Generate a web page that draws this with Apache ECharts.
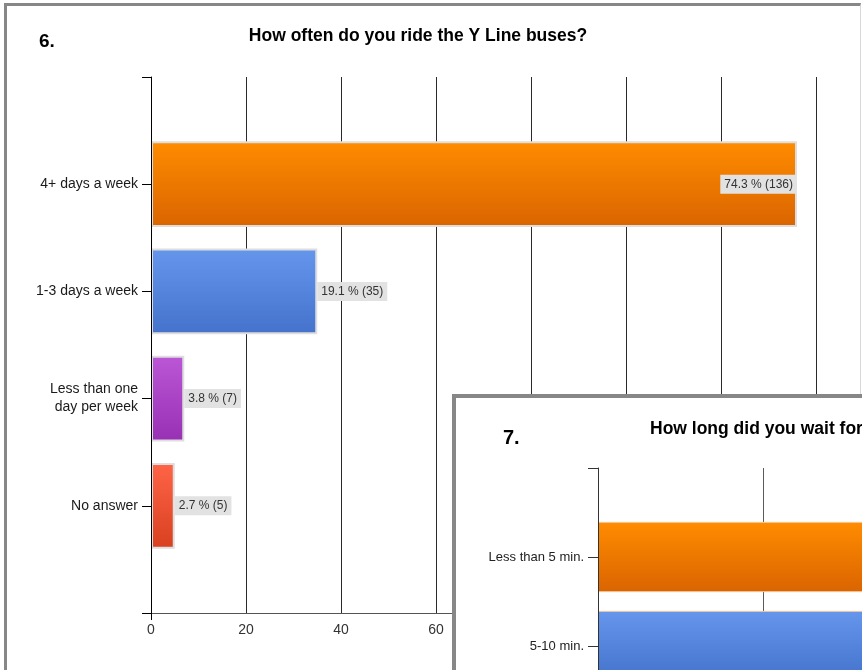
<!DOCTYPE html>
<html>
<head>
<meta charset="utf-8">
<script src="https://cdn.jsdelivr.net/npm/echarts@6/dist/echarts.min.js"></script>
<style>
    html, body { margin: 0; padding: 0; width: 862px; height: 670px; overflow: hidden; background: #fff; }
    #frame6 { position: absolute; left: 4px; top: 3px; width: 853px; height: 800px;
              border-left: 3px solid #878787; border-top: 3px solid #878787; border-right: 1px solid #d8d8d8; }
    #chart6 { position: absolute; left: 0; top: 0; width: 862px; height: 670px; }
    #box7 { position: absolute; left: 452px; top: 394px; width: 600px; height: 400px; background: #fff;
            border-left: 4px solid #878787; border-top: 4px solid #878787; }
    #chart7 { position: absolute; left: 0; top: 0; width: 600px; height: 400px; }
</style>
</head>
<body>
<div id="frame6"></div>
<div id="chart6"></div>
<div id="box7"><div id="chart7"></div></div>
<script>
    // question 6
    var categories6 = ['4+ days a week', '1-3 days a week', 'Less than one\nday per week', 'No answer'];
    var counts6 = [136, 35, 7, 5];
    var percents6 = [74.3, 19.1, 3.8, 2.7];

    // question 7 (only the top of it is visible)
    var categories7 = ['Less than 5 min.', '5-10 min.'];
    var counts7 = [84, 61];

    // top / bottom colours of each bar
    var barColors = [
        ['#ff8c00', '#da6400'],
        ['#6596ec', '#4472cc'],
        ['#bb57d6', '#9830b4'],
        ['#ff6447', '#d8401f']
    ];

    function grad(i) {
        return new echarts.graphic.LinearGradient(0, 0, 0, 1, [
            {offset: 0, color: barColors[i][0]},
            {offset: 1, color: barColors[i][1]}
        ]);
    }

    // empty slot before and after the categories, like the original
    function padded(arr, empty) {
        return [empty].concat(arr, [empty]);
    }

    var chart6 = echarts.init(document.getElementById('chart6'));
    var data6 = counts6.map(function (v, i) {
        return {
            value: v,
            itemStyle: {color: grad(i)},
            label: {position: v > 100 ? 'insideRight' : 'right'}
        };
    });
    chart6.setOption({
        animation: false,
        graphic: [
            {type: 'text', x: 39, y: 42, style: {text: '6.', font: 'bold 19px "Liberation Sans"', fill: '#000', verticalAlign: 'middle'}},
            {type: 'text', x: 418, y: 36, style: {text: 'How often do you ride the Y Line buses?', font: 'bold 17.5px "Liberation Sans"', fill: '#000', align: 'center', verticalAlign: 'middle'}}
        ],
        grid: {left: 151, top: 77, width: 760, height: 536, containLabel: false, outerBoundsMode: 'none'},
        xAxis: [{
            type: 'value', min: 0, max: 160, interval: 20,
            axisLine: {show: true, lineStyle: {color: '#555', width: 1}},
            axisTick: {show: false},
            axisLabel: {color: '#333', fontSize: 14, fontFamily: 'Liberation Sans', margin: 10},
            splitLine: {show: true, lineStyle: {color: '#2a2a2a', width: 1}}
        }, {
            // only the small tick under 0
            type: 'value', min: 0, max: 160, position: 'bottom',
            axisLine: {show: false},
            axisTick: {show: true, customValues: [0], length: 7, lineStyle: {color: '#000'}},
            axisLabel: {show: false},
            splitLine: {show: false}
        }],
        yAxis: {
            type: 'category', inverse: true, boundaryGap: false, z: 5,
            data: padded(categories6, ''),
            axisLine: {lineStyle: {color: '#000', width: 1}},
            axisTick: {show: true, interval: 0, length: 9, lineStyle: {color: '#000'}},
            axisLabel: {interval: 0, color: '#1a1a1a', fontSize: 14, fontFamily: 'Liberation Sans', margin: 13, lineHeight: 18},
            splitLine: {show: false}
        },
        series: [{
            type: 'bar',
            barWidth: '80%',
            data: padded(data6, '-'),
            itemStyle: {borderColor: '#dedede', borderWidth: 2},
            label: {
                show: true,
                distance: 0,
                color: '#333',
                fontSize: 12,
                fontFamily: 'Liberation Sans',
                backgroundColor: '#e2e2e2',
                padding: [4, 4, 3, 4],
                formatter: function (p) {
                    return percents6[p.dataIndex - 1] + ' % (' + p.value + ')';
                }
            }
        }]
    });

    var chart7 = echarts.init(document.getElementById('chart7'));
    var data7 = counts7.map(function (v, i) {
        return {value: v, itemStyle: {color: grad(i)}};
    });
    chart7.setOption({
        animation: false,
        graphic: [
            {type: 'text', x: 47, y: 40, style: {text: '7.', font: 'bold 20px "Liberation Sans"', fill: '#000', verticalAlign: 'middle'}},
            {type: 'text', x: 194, y: 31, style: {text: 'How long did you wait for the bus?', font: 'bold 17.5px "Liberation Sans"', fill: '#000', verticalAlign: 'middle'}}
        ],
        grid: {left: 142, top: 70, width: 1320, height: 267, containLabel: false, outerBoundsMode: 'none'},
        xAxis: {
            type: 'value', min: 0, max: 160, interval: 20,
            axisLine: {show: false},
            axisTick: {show: false},
            axisLabel: {show: false},
            splitLine: {show: true, lineStyle: {color: '#5a5a5a', width: 1}}
        },
        yAxis: {
            type: 'category', inverse: true, boundaryGap: false, z: 5,
            data: padded(categories7, ''),
            axisLine: {lineStyle: {color: '#333', width: 1}},
            axisTick: {show: true, interval: 0, length: 10, lineStyle: {color: '#333'}},
            axisLabel: {interval: 0, color: '#222', fontSize: 13, fontFamily: 'Liberation Sans', margin: 14}
        },
        series: [{
            type: 'bar',
            barWidth: '79%',
            data: padded(data7, '-'),
            itemStyle: {borderColor: '#f3c9a0', borderWidth: 1}
        }]
    });
</script>
</body>
</html>
